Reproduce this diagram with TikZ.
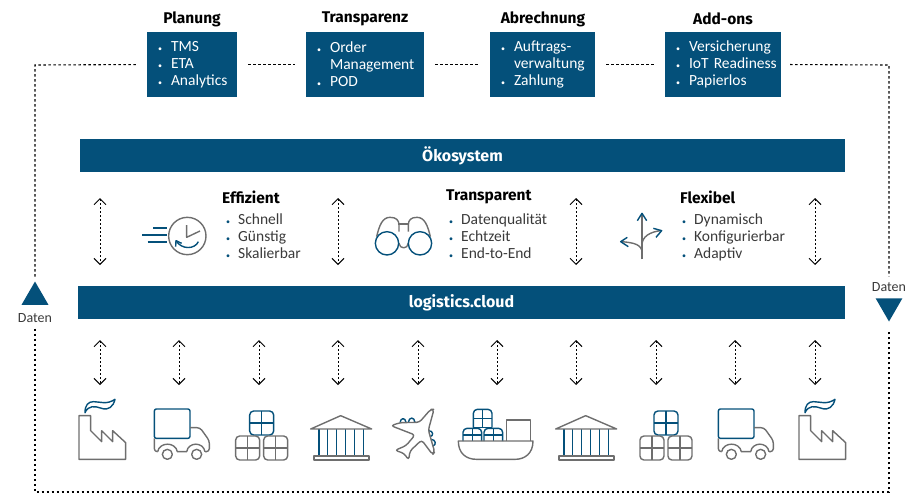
\documentclass[tikz,border=0pt]{standalone}
\usepackage{fontspec}
\setmainfont{Carlito}
\newfontfamily\headfont{Fira Sans}
\usetikzlibrary{arrows.meta,shapes.geometric}

\definecolor{barblue}{HTML}{04507A}
\definecolor{icongray}{HTML}{6E6E6E}
\definecolor{textgray}{HTML}{3A3A3A}

\newcommand{\itm}[1]{\mbox{\makebox[13pt][l]{{\footnotesize\textbullet}}#1}}
\newcommand{\itmc}[1]{\mbox{\hspace*{13pt}#1}}
\newcommand{\itmb}{\makebox[12pt][l]{\textcolor{barblue}{\footnotesize\textbullet}}}

\tikzset{
	grayline/.style={draw=icongray,line width=1.4pt,line join=round},
	blueline/.style={draw=barblue,line width=1.4pt,line join=round},
	bar/.style={fill=barblue,text=white,font=\fontsize{16}{17}\selectfont\headfont\bfseries,minimum height=33pt,inner sep=0pt},
	topbox/.style={fill=barblue,text=white,font=\fontsize{15.5}{17}\selectfont,minimum height=65pt,inner xsep=11pt,inner ysep=0pt,align=left},
	heading/.style={font=\fontsize{15.5}{17}\selectfont\headfont\bfseries,inner sep=0pt},
	itemlist/.style={font=\fontsize{15.5}{17}\selectfont,text=textgray,align=left,anchor=north west,inner sep=0pt},
	datenlabel/.style={font=\fontsize{14}{15}\selectfont,text=textgray,inner sep=0pt},
	triangle/.style={regular polygon,regular polygon sides=3,fill=barblue,minimum size=31pt,inner sep=0pt},
	boxlink/.style={draw=black,line width=1pt,dash pattern=on 3pt off 2pt},
	looplink/.style={draw=black,line width=1.1pt,dash pattern=on 2.5pt off 2.5pt},
	updown/.style={draw=black,line width=0.9pt,dash pattern=on 2pt off 2pt,{Straight Barb[length=6pt,width=12pt,line width=1pt]}-{Straight Barb[length=6pt,width=12pt,line width=1pt]}},
	pics/factory/.style={code={
		\begin{scope}[scale=1/3]
		\draw[grayline] (57,208) -- (57,77) -- (92,77) -- (92,122) -- (125,155) -- (125,122) -- (158,155) -- (158,122) -- (197,158) -- (197,208) -- cycle;
		\draw[blueline] (75,68) .. controls (75,45) and (85,35) .. (100,35) .. controls (120,35) and (140,45) .. (165,28) .. controls (160,50) and (145,62) .. (125,55) .. controls (105,48) and (85,45) .. cycle;
		\end{scope}
	}},
	pics/truck/.style={code={
		\begin{scope}[scale=1/3]
		\draw[blueline,rounded corners=2pt] (283,57) rectangle (390,145);
		\draw[grayline,rounded corners=3pt] (390,113) -- (420,113) -- (448,152) -- (448,185) -- (435,185);
		\draw[grayline] (435,185) .. controls (430,155) and (385,155) .. (380,185) -- (352,185) .. controls (347,155) and (298,155) .. (293,185);
		\draw[grayline,rounded corners=3pt] (293,185) -- (283,185) -- (283,145);
		\draw[grayline] (322,193) circle[radius=15] (410,193) circle[radius=15];
		\end{scope}
	}},
	pics/crate/.style={code={
		\draw[rounded corners=4pt] (0,0) rectangle (24,24);
		\draw (12,0) -- (12,24) (0,12) -- (24,12);
	}},
	pics/crates/.style={code={
		\begin{scope}[scale=1/3]
		\pic[blueline] at (569,63) {crate};
		\pic[grayline] at (527,138) {crate};
		\pic[grayline] at (611,138) {crate};
		\end{scope}
	}},
	pics/temple/.style={code={
		\begin{scope}[scale=1/3]
		\foreach \colx in {57,82,110,137,163,190}
			\draw[blueline] (\colx,117) -- (\colx,198);
		\draw[grayline] (32,117) -- (122,77) -- (215,117) -- cycle;
		\draw[grayline] (42,198) rectangle (207,210);
		\end{scope}
	}},
	pics/plane/.style={code={
		\begin{scope}[scale=1/3]
		\draw[blueline] (300,98) .. controls (302,82) and (316,82) .. (318,97);
		\draw[blueline] (325,97) .. controls (327,80) and (343,80) .. (345,97);
		\draw[blueline] (386,122) .. controls (400,122) and (402,138) .. (390,140);
		\draw[blueline] (393,148) .. controls (408,148) and (410,166) .. (398,168);
		\draw[grayline,rounded corners=3pt] (402,58) -- (392,58) -- (358,97) -- (300,98) -- (273,107) -- (345,135) -- (318,167) -- (285,181) -- (312,190) -- (326,210) -- (330,183) -- (365,150) -- (398,194) -- (404,186) -- (385,120) -- cycle;
		\end{scope}
	}},
	pics/ship/.style={code={
		\begin{scope}[scale=1/3]
		\draw[blueline,rounded corners=4pt] (520,113) -- (520,58) -- (576,58) -- (576,113);
		\draw[blueline] (520,113) -- (576,113) (548,58) -- (548,113) (520,85) -- (576,85);
		\draw[blueline,rounded corners=4pt] (489,153) -- (489,115) -- (545,115) -- (545,153);
		\draw[blueline,rounded corners=4pt] (552,153) -- (552,115) -- (608,115) -- (608,153);
		\draw[blueline] (517,115) -- (517,153) (580,115) -- (580,153) (489,135) -- (545,135) (552,135) -- (608,135);
		\draw[grayline] (619,153) -- (619,90) -- (692,90) -- (692,153);
		\draw[grayline] (475,153) -- (699,153) .. controls (699,190) and (675,208) .. (645,208) -- (530,208) .. controls (498,208) and (475,190) .. cycle;
		\end{scope}
	}},
	pics/clock/.style={code={
		\begin{scope}[scale=1/3]
		\draw[grayline] (382,318) circle[radius=56];
		\draw[grayline] (380,285) -- (380,322) -- (420,303);
		\draw[blueline] (280,294) -- (322,294) (246,315) -- (322,315) (263,336) -- (322,336);
		\draw[blueline] (415,335) .. controls (405,358) and (365,360) .. (348,332);
		\draw[blueline] (347,350) -- (348,332) -- (365,340);
		\end{scope}
	}},
	pics/binoculars/.style={code={
		\begin{scope}[scale=1/3]
		\draw[grayline] (950,320) .. controls (958,285) and (968,262) .. (990,262) .. controls (1008,262) and (1017,270) .. (1017,285) -- (1017,305);
		\draw[grayline] (1111,320) .. controls (1103,285) and (1093,262) .. (1071,262) .. controls (1053,262) and (1045,270) .. (1045,285) -- (1045,305);
		\draw[grayline] (1017,282) -- (1045,282);
		\draw[grayline] (1017,340) .. controls (1019,358) and (1043,358) .. (1045,340);
		\draw[blueline] (981,340) circle[radius=35] (1080,340) circle[radius=35];
		\end{scope}
	}},
	pics/forks/.style={code={
		\begin{scope}[scale=1/3]
		\draw[grayline] (486,388) -- (486,252);
		\draw[grayline] (486,368) .. controls (486,345) and (465,338) .. (425,335);
		\draw[grayline] (486,345) .. controls (486,320) and (510,305) .. (543,302);
		\draw[blueline] (472,272) -- (486,250) -- (500,272);
		\draw[blueline] (442,322) -- (422,335) -- (445,350);
		\draw[blueline] (520,295) -- (545,302) -- (528,322);
		\end{scope}
	}}
}

\begin{document}
\begin{tikzpicture}[x=1pt,y=-1pt]
	\useasboundingbox (0,0) rectangle (923,493);

	% top boxes
	\node[heading] (planungH) at (192,19) {Planung};
	\node[heading] (transparenzH) at (365,19) {Transparenz};
	\node[heading] (abrechnungH) at (543,19) {Abrechnung};
	\node[heading] (addonsH) at (723,19) {Add-ons};

	\node[topbox,text width=68pt] (planung) at (192,64.5) {\itm{TMS}\\\itm{ETA}\\\itm{Analytics}};
	\node[topbox,text width=96pt] (transparenz) at (365,64.5) {\itm{Order}\\\itmc{Management}\\\itm{POD}};
	\node[topbox,text width=83pt] (abrechnung) at (542.5,64.5) {\itm{Auftrags-}\\\itmc{verwaltung}\\\itm{Zahlung}};
	\node[topbox,text width=94pt] (addons) at (723,64.5) {\itm{Versicherung}\\\itm{IoT Readiness}\\\itm{Papierlos}};

	% bars
	\node[bar,minimum width=765pt] (oekosystem) at (462.5,155.5) {Ökosystem};
	\node[bar,minimum width=767pt] (cloud) at (461.5,302.5) {logistics.cloud};

	% middle block
	\node[heading,anchor=west] (effizient) at (222,197) {Effizient};
	\node[heading,anchor=west] (transparent) at (446,197) {Transparent};
	\node[heading,anchor=west] (flexibel) at (680,197) {Flexibel};
	\node[itemlist] (effizientL) at (226,214) {\itmb Schnell\\\itmb Günstig\\\itmb Skalierbar};
	\node[itemlist] (transparentL) at (449,214) {\itmb Datenqualität\\\itmb Echtzeit\\\itmb End-to-End};
	\node[itemlist] (flexibelL) at (682,214) {\itmb Dynamisch\\\itmb Konfigurierbar\\\itmb Adaptiv};

	\pic at (60,130) {clock};
	\pic at (60,130) {binoculars};
	\pic at (480,130) {forks};

	% bottom icons
	\pic at (60,390) {factory};
	\pic at (60,390) {truck};
	\pic at (60,390) {crates};
	\pic at (300,390) {temple};
	\pic at (300,390) {plane};
	\pic at (300,390) {ship};
	\pic at (545,390) {temple};
	\pic at (464.3,390) {crates};
	\pic at (624,390) {truck};
	\pic at (780,390) {factory};

	% daten
	\node[triangle] (upT) at (35,297) {};
	\node[datenlabel] (datenL) at (35,318) {Daten};
	\node[datenlabel] (datenR) at (889,287) {Daten};
	\node[triangle,shape border rotate=180] (downT) at (889,306) {};

	\coordinate (cornerTL) at (35,65);
	\coordinate (cornerBL) at (35,492);
	\coordinate (cornerBR) at (889,492);
	\coordinate (cornerTR) at (889,65);

	\draw[boxlink,shorten <=11pt,shorten >=11pt] (planung) -- (transparenz);
	\draw[boxlink,shorten <=11pt,shorten >=11pt] (transparenz) -- (abrechnung);
	\draw[boxlink,shorten <=11pt,shorten >=11pt] (abrechnung) -- (addons);

	\draw[looplink,shorten <=11pt,shorten >=4pt] (planung.west) -- (cornerTL) -- (upT.north);
	\draw[looplink,shorten <=6pt,shorten >=8pt] (datenL.south) -- (cornerBL) -- (cornerBR) -- (downT.south);
	\draw[looplink,shorten <=9pt,shorten >=6pt] (addons.east) -- (cornerTR) -- (datenR.north);

	% vertical arrows
	\foreach \x [count=\i] in {100,338,576,815}{
		\coordinate (ecoTop\i) at (\x,198);
		\coordinate (ecoBot\i) at (\x,265);
		\draw[updown] (ecoTop\i) -- (ecoBot\i);
	}
	\foreach \x [count=\i] in {100,179,259,338,418,497,576,656,735,815}{
		\coordinate (cloudTop\i) at (\x,340);
		\coordinate (cloudBot\i) at (\x,385);
		\draw[updown] (cloudTop\i) -- (cloudBot\i);
	}
\end{tikzpicture}
\end{document}
